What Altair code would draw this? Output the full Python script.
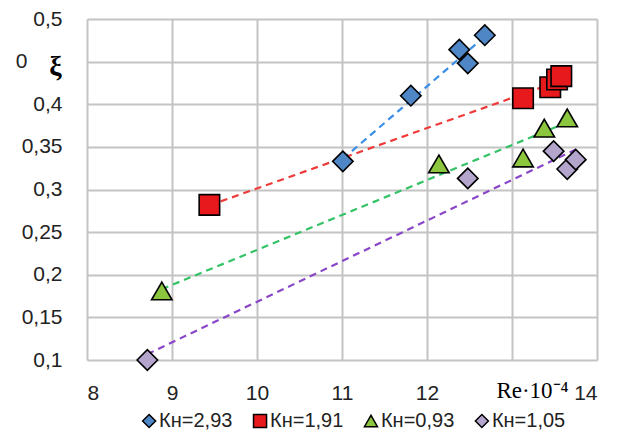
import altair as alt
import pandas as pd

series_names = ["Кн=2,93", "Кн=1,91", "Кн=0,93", "Кн=1,05"]

blue_x = [11.01, 11.81, 12.38, 12.48, 12.68]
blue_y = [0.333, 0.410, 0.464, 0.448, 0.481]

red_x = [9.44, 13.13, 13.45, 13.53, 13.58]
red_y = [0.282, 0.407, 0.420, 0.429, 0.433]

green_x = [8.88, 12.14, 13.13, 13.38, 13.65]
green_y = [0.181, 0.330, 0.337, 0.372, 0.384]

purple_x = [8.71, 12.48, 13.49, 13.65, 13.75]
purple_y = [0.100, 0.313, 0.345, 0.324, 0.335]

fill_colors = ["#4f86c6", "#e8191c", "#8cc63f", "#b4a5cc"]
line_colors = ["#3a8ee6", "#f03a3a", "#33c266", "#8a46c8"]
shapes = ["diamond", "square", "triangle-up", "diamond"]

rows = []
for name, xs, ys in zip(series_names,
                        [blue_x, red_x, green_x, purple_x],
                        [blue_y, red_y, green_y, purple_y]):
    for xv, yv in zip(xs, ys):
        rows.append({"series": name, "x": xv, "y": yv})
df = pd.DataFrame(rows)
legend_df = pd.DataFrame({"series": series_names})

x_scale = alt.Scale(domain=[8, 14], nice=False, zero=False)
y_scale = alt.Scale(domain=[0.1, 0.5], nice=False, zero=False)
color_scale = alt.Scale(domain=series_names, range=fill_colors)
shape_scale = alt.Scale(domain=series_names, range=shapes)

x_axis = alt.Axis(
    values=[8, 9, 10, 11, 12, 13, 14],
    labelExpr="datum.value == 13 ? '' : format(datum.value, 'd')",
    title="Re·10⁻⁴",
    titleFont="Liberation Serif",
    titleFontSize=23,
    titleFontWeight="normal",
    titleX=445,
    titleY=37,
    titleBaseline="alphabetic",
    titleAlign="center",
    labelFont="Liberation Sans",
    labelFontSize=21,
    labelColor="#222222",
    labelPadding=22,
    grid=True, gridColor="#c4c4c4", gridWidth=2,
    domain=False, ticks=False,
)
y_axis = alt.Axis(
    values=[0.1, 0.15, 0.2, 0.25, 0.3, 0.35, 0.4, 0.45, 0.5],
    labelExpr="datum.value > 0.44 && datum.value < 0.46 ? '0' : replace(format(datum.value, '.2~f'), '.', ',')",
    labelPadding={"condition": {"test": "datum.value > 0.44 && datum.value < 0.46", "value": 60}, "value": 25},
    title="ξ",
    titleFont="Liberation Serif",
    titleFontSize=28,
    titleFontWeight="bold",
    titleAngle=0,
    titleX=-32,
    titleY=47,
    titleAlign="center",
    titleBaseline="middle",
    labelFont="Liberation Sans",
    labelFontSize=21,
    labelColor="#222222",
    grid=True, gridColor="#c4c4c4", gridWidth=2,
    domain=False, ticks=False,
)

lines = alt.Chart(df).transform_regression(
    "x", "y", groupby=["series"]
).transform_calculate(
    grp="datum.series"
).mark_line(strokeDash=[7, 5], strokeWidth=2.2).encode(
    x=alt.X("x:Q", scale=x_scale, axis=x_axis),
    y=alt.Y("y:Q", scale=y_scale, axis=y_axis),
    stroke=alt.Stroke("grp:N", scale=alt.Scale(domain=series_names, range=line_colors), legend=None),
    detail="grp:N",
)

points = alt.Chart(df).mark_point(filled=True, stroke="black", strokeWidth=1.6, opacity=1, size=420).encode(
    x=alt.X("x:Q", scale=x_scale),
    y=alt.Y("y:Q", scale=y_scale),
    color=alt.Color("series:N", scale=color_scale, legend=None),
    shape=alt.Shape("series:N", scale=shape_scale, legend=None),
)

main = alt.layer(lines, points).properties(width=510, height=341)

# legend row built from the same series list and scales
leg_base = alt.Chart(legend_df).encode(
    x=alt.X("series:N", sort=series_names,
            scale=alt.Scale(type="point", padding=0.56), axis=None),
)
leg_sym = leg_base.mark_point(filled=True, stroke="black", strokeWidth=1.5, opacity=1, size=170).encode(
    color=alt.Color("series:N", scale=color_scale, legend=None),
    shape=alt.Shape("series:N", scale=shape_scale, legend=None),
)
leg_txt = leg_base.mark_text(align="left", baseline="middle", dx=10,
                             font="Liberation Sans", fontSize=20, color="#222222").encode(
    text="series:N",
)
legend_row = alt.layer(leg_sym, leg_txt).properties(width=457, height=20)

chart = alt.vconcat(main, legend_row, spacing=8).resolve_scale(
    x="independent", y="independent"
).properties(
    padding={"left": 7, "top": 0, "right": 5, "bottom": 5},
).configure_view(stroke=None)

chart.save("out.html", embed_options={"renderer": "svg", "actions": False})
